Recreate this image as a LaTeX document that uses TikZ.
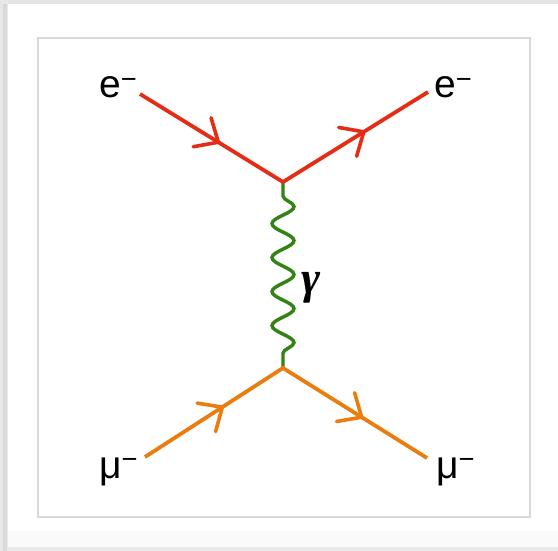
\documentclass[tikz,border=0pt]{standalone}
\usepackage{fontspec}
\setmainfont{Liberation Sans}
\newfontfamily\gammafont{Liberation Serif}
\usepackage{tikz}
\usetikzlibrary{arrows.meta, decorations.markings, decorations.pathmorphing}

\definecolor{electronred}{RGB}{228,45,20}
\definecolor{photongreen}{RGB}{50,130,20}
\definecolor{muonorange}{RGB}{235,125,15}

\begin{document}
\begin{tikzpicture}[
	x=1pt, y=-1pt,
	fermion/.style={line width=3.8pt, line join=miter},
	mid arrow/.style={postaction={decorate, decoration={markings,
		mark=at position #1 with {\draw[line width=3.6pt, line cap=round, line join=miter] (-19pt,17pt) -- (0pt,0pt) -- (-19pt,-17pt);}}}},
	photon/.style={line width=3.4pt, photongreen, decorate,
		decoration={snake, amplitude=11pt, segment length=34pt, pre length=14pt, post length=10pt}},
	particle/.style={font=\fontsize{39}{44}\selectfont, inner sep=0pt, anchor=base west}
	]
	
	% screenshot frame
	\useasboundingbox (0,0) rectangle (558,551);
	\fill[white] (0,0) rectangle (558,551);
	\fill[gray!4] (0,531) rectangle (558,547);
	\fill[gray!18] (0,547) rectangle (558,551);
	\fill[gray!20] (0,0) rectangle (558,4);
	\fill[gray!18] (0,0) rectangle (8,551);
	\fill[gray!30] (3,4) rectangle (7,551);
	\draw[gray!30, line width=1.5pt] (38,38) rectangle (530,517);
	
	% vertices and free ends
	\coordinate (vtop) at (283,182);
	\coordinate (vbot) at (283,368);
	\coordinate (ein) at (140,94);
	\coordinate (eout) at (428,92);
	\coordinate (muin) at (145,457);
	\coordinate (muout) at (427,458);
	
	% labels
	\node[particle] (elabin) at (99,98) {e\textsuperscript{−}};
	\node[particle] (elabout) at (434,98) {e\textsuperscript{−}};
	\node[particle] (mulabin) at (99,478) {μ\textsuperscript{−}};
	\node[particle] (mulabout) at (436,478) {μ\textsuperscript{−}};
	
	% photon
	\draw[photon] (vtop) -- (vbot);
	\node[font=\gammafont\bfseries\itshape\fontsize{46}{50}\selectfont, inner sep=0pt, anchor=base] (gamma) at (311,293) {γ};
	
	% electron line
	\draw[fermion, electronred, mid arrow=92pt, mid arrow=263pt] (ein) -- (vtop) -- (eout);
	
	% muon line
	\draw[fermion, muonorange, mid arrow=92pt, mid arrow=257pt] (muin) -- (vbot) -- (muout);
	
\end{tikzpicture}
\end{document}
